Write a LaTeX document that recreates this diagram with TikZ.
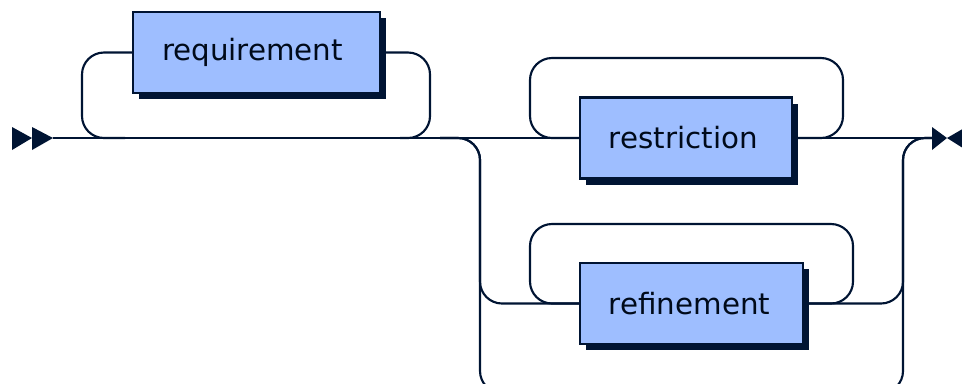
\documentclass[tikz,border=0pt]{standalone}
\usepackage{fontspec}
\setmainfont{DejaVu Sans}
\usetikzlibrary{shadows}
\definecolor{rrline}{HTML}{001433}
\definecolor{rrfill}{HTML}{9EBEFF}
\definecolor{rrtext}{HTML}{000A1A}

\begin{document}
\begin{tikzpicture}[x=0.75pt,y=-0.75pt,
    track/.style={draw=rrline, line width=1.6pt, rounded corners=16.5pt},
    nonterm/.style={draw=rrline, fill=rrfill, line width=1.6pt, text=rrtext,
        inner sep=0pt, minimum height=60.75pt, font=\fontsize{22}{26}\selectfont,
        drop shadow={shadow xshift=4.5pt, shadow yshift=-4.5pt, fill=rrline, opacity=1}}]
        \useasboundingbox (0,0) rectangle (962,383);
        \clip (0,0) rectangle (962,383);

        \coordinate (start) at (53,138);
        \coordinate (finish) at (932,138);
        \coordinate (leave) at (125,138); %requirement loop start
        \coordinate (back) at (400,138); %requirement rejoin
        \coordinate (fork) at (440,138); %choice split

        \node[nonterm, minimum width=185.25pt] (req) at (256.5,52.5) {requirement\hspace*{6pt}};
        \node[nonterm, minimum width=159pt] (restr) at (686,138) {restriction\hspace*{4pt}};
        \node[nonterm, minimum width=167.25pt] (ref) at (691.5,303.5) {refinement\hspace*{3pt}};

        \draw[track] (leave) -| (82,52.5) -- (req.west);
        \draw[track] (req.east) -| (430,138) -- (back);
        \draw[track] (start) -- (restr.west); %main line
        \draw[track] (restr.east) -- (finish);

        \draw[track] (restr.east) -| (843,58) -| (530,138) -- (restr.west); %repeat
        \draw[track] (fork) -| (480,303.5) -- (ref.west);
        \draw[track] (ref.east) -| (853,224) -| (530,303.5) -- (ref.west); %repeat
        \draw[track] (ref.east) -| (903,138) -- (finish);
        \draw[track] (fork) -| (480,393) -| (903,138) -- (finish); %empty

        \fill[rrline] (12,127) -- (32,138) -- (12,150) -- cycle;
        \fill[rrline] (32,127) -- (53,138) -- (32,150) -- cycle;
        \fill[rrline] (932,127) -- (947,138) -- (932,150) -- cycle;
        \fill[rrline] (966,127) -- (947,138) -- (966,150) -- cycle;
    \end{tikzpicture}
\end{document}
